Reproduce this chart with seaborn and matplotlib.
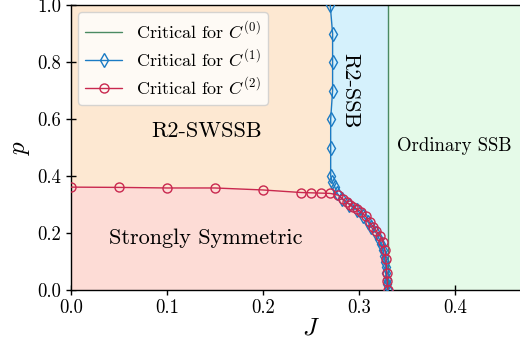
import numpy as np
import pandas as pd
import matplotlib
matplotlib.use("Agg")
import matplotlib.pyplot as plt
import seaborn as sns

# Critical line C^(0)
J_c0 = 0.33

# Critical line C^(1) (blue, diamonds)
p_c1 = [1.0, 0.9, 0.8, 0.7, 0.6, 0.5, 0.4, 0.38, 0.36, 0.34, 0.32, 0.30, 0.28,
        0.26, 0.24, 0.22, 0.20, 0.18, 0.16, 0.14, 0.12, 0.10, 0.08, 0.06, 0.04, 0.02, 0.0]
J_c1 = [0.2700, 0.2725, 0.2725, 0.2725, 0.2705, 0.2705, 0.2705, 0.2720, 0.2750, 0.2770,
        0.2820, 0.2900, 0.2980, 0.3040, 0.3090, 0.3130, 0.3180, 0.3210, 0.3230, 0.3250,
        0.3260, 0.3270, 0.3280, 0.3280, 0.3290, 0.3290, 0.3300]

# Critical line C^(2) (red, circles)
J_c2 = [0.0, 0.05, 0.10, 0.15, 0.20, 0.24, 0.25, 0.26, 0.27, 0.278, 0.283, 0.287,
        0.291, 0.294, 0.298, 0.302, 0.307, 0.311, 0.315, 0.318, 0.322, 0.325, 0.327,
        0.328, 0.329, 0.3295, 0.33]
p_c2 = [0.361, 0.360, 0.358, 0.358, 0.351, 0.342, 0.341, 0.340, 0.339, 0.333, 0.320, 0.308,
        0.300, 0.292, 0.284, 0.275, 0.258, 0.237, 0.222, 0.207, 0.190, 0.170, 0.140,
        0.108, 0.059, 0.030, 0.0]

sns.set_style("ticks")
plt.rcParams["font.family"] = ["cmr10", "DejaVu Serif"]
plt.rcParams["mathtext.fontset"] = "cm"
plt.rcParams["axes.formatter.use_mathtext"] = True
plt.rcParams["text.color"] = "black"
plt.rcParams["axes.labelcolor"] = "black"
plt.rcParams["xtick.color"] = "black"
plt.rcParams["ytick.color"] = "black"

fig = plt.figure(figsize=(5.2, 3.49), dpi=100)
ax = fig.add_axes([71/520, 59/349, 480/520, 285/349])

c_green_bg = "#e5fae8"
c_blue_bg = "#d5f1fc"
c_peach = "#fde8d2"
c_pink = "#fddcd6"

ax.set_facecolor(c_green_bg)
ax.axvspan(0, J_c0, color=c_blue_bg, lw=0, zorder=0)
ax.fill_betweenx(p_c1, 0, J_c1, color=c_peach, lw=0, zorder=0.5)
ax.fill_between(J_c2, 0, p_c2, color=c_pink, lw=0, zorder=0.6)

ax.axvline(J_c0, color="#4a8a62", lw=1.0, zorder=2, label=r"Critical for $C^{(0)}$")

df1 = pd.DataFrame({"J": J_c1, "p": p_c1})
df2 = pd.DataFrame({"J": J_c2, "p": p_c2})
sns.lineplot(data=df1, x="J", y="p", sort=False, estimator=None, ax=ax,
             color="#1b7bc4", lw=1.0, marker="d", markersize=7, mfc="none",
             mec="#1b7bc4", mew=1.0, label=r"Critical for $C^{(1)}$", zorder=3)
sns.lineplot(data=df2, x="J", y="p", sort=False, estimator=None, ax=ax,
             color="#c9284f", lw=1.0, marker="o", markersize=6.5, mfc="none",
             mec="#c9284f", mew=1.0, label=r"Critical for $C^{(2)}$", zorder=4)

ax.set_xlim(0, 0.5)
ax.set_ylim(0, 1.0)
ax.set_xticks([0.0, 0.1, 0.2, 0.3, 0.4])
ax.set_yticks([0.0, 0.2, 0.4, 0.6, 0.8, 1.0])
ax.xaxis.set_major_formatter(matplotlib.ticker.FormatStrFormatter("%.1f"))
ax.yaxis.set_major_formatter(matplotlib.ticker.FormatStrFormatter("%.1f"))
ax.tick_params(direction="inout", length=7, width=1.0, labelsize=13.5,
               color="black", labelcolor="black")
ax.tick_params(axis="x", pad=3)
ax.set_xlabel(r"$J$", fontsize=18, labelpad=0)
ax.set_ylabel(r"$p$", fontsize=18, labelpad=4)
for s in ["left", "bottom", "top"]:
    ax.spines[s].set_color("black")
    ax.spines[s].set_linewidth(1.0)
ax.spines["right"].set_visible(False)

ax.text(0.141, 0.558, "R2-SWSSB", fontsize=16, ha="center", va="center", color="black")
ax.text(0.140, 0.182, "Strongly Symmetric", fontsize=16, ha="center", va="center", color="black")
ax.text(0.3995, 0.505, "Ordinary SSB", fontsize=13.5, ha="center", va="center", color="black")
ax.text(0.291, 0.70, "R2-SSB", fontsize=16, ha="center", va="center", rotation=270, color="black")

leg = ax.legend(loc="upper left", fontsize=13, frameon=True, fancybox=True,
                borderaxespad=0.4, handlelength=2.0, labelspacing=0.35,
                borderpad=0.4, labelcolor="black")
leg.get_frame().set_facecolor("white")
leg.get_frame().set_alpha(0.8)
leg.get_frame().set_edgecolor("#cccccc")

fig.savefig("out.png", dpi=100)
